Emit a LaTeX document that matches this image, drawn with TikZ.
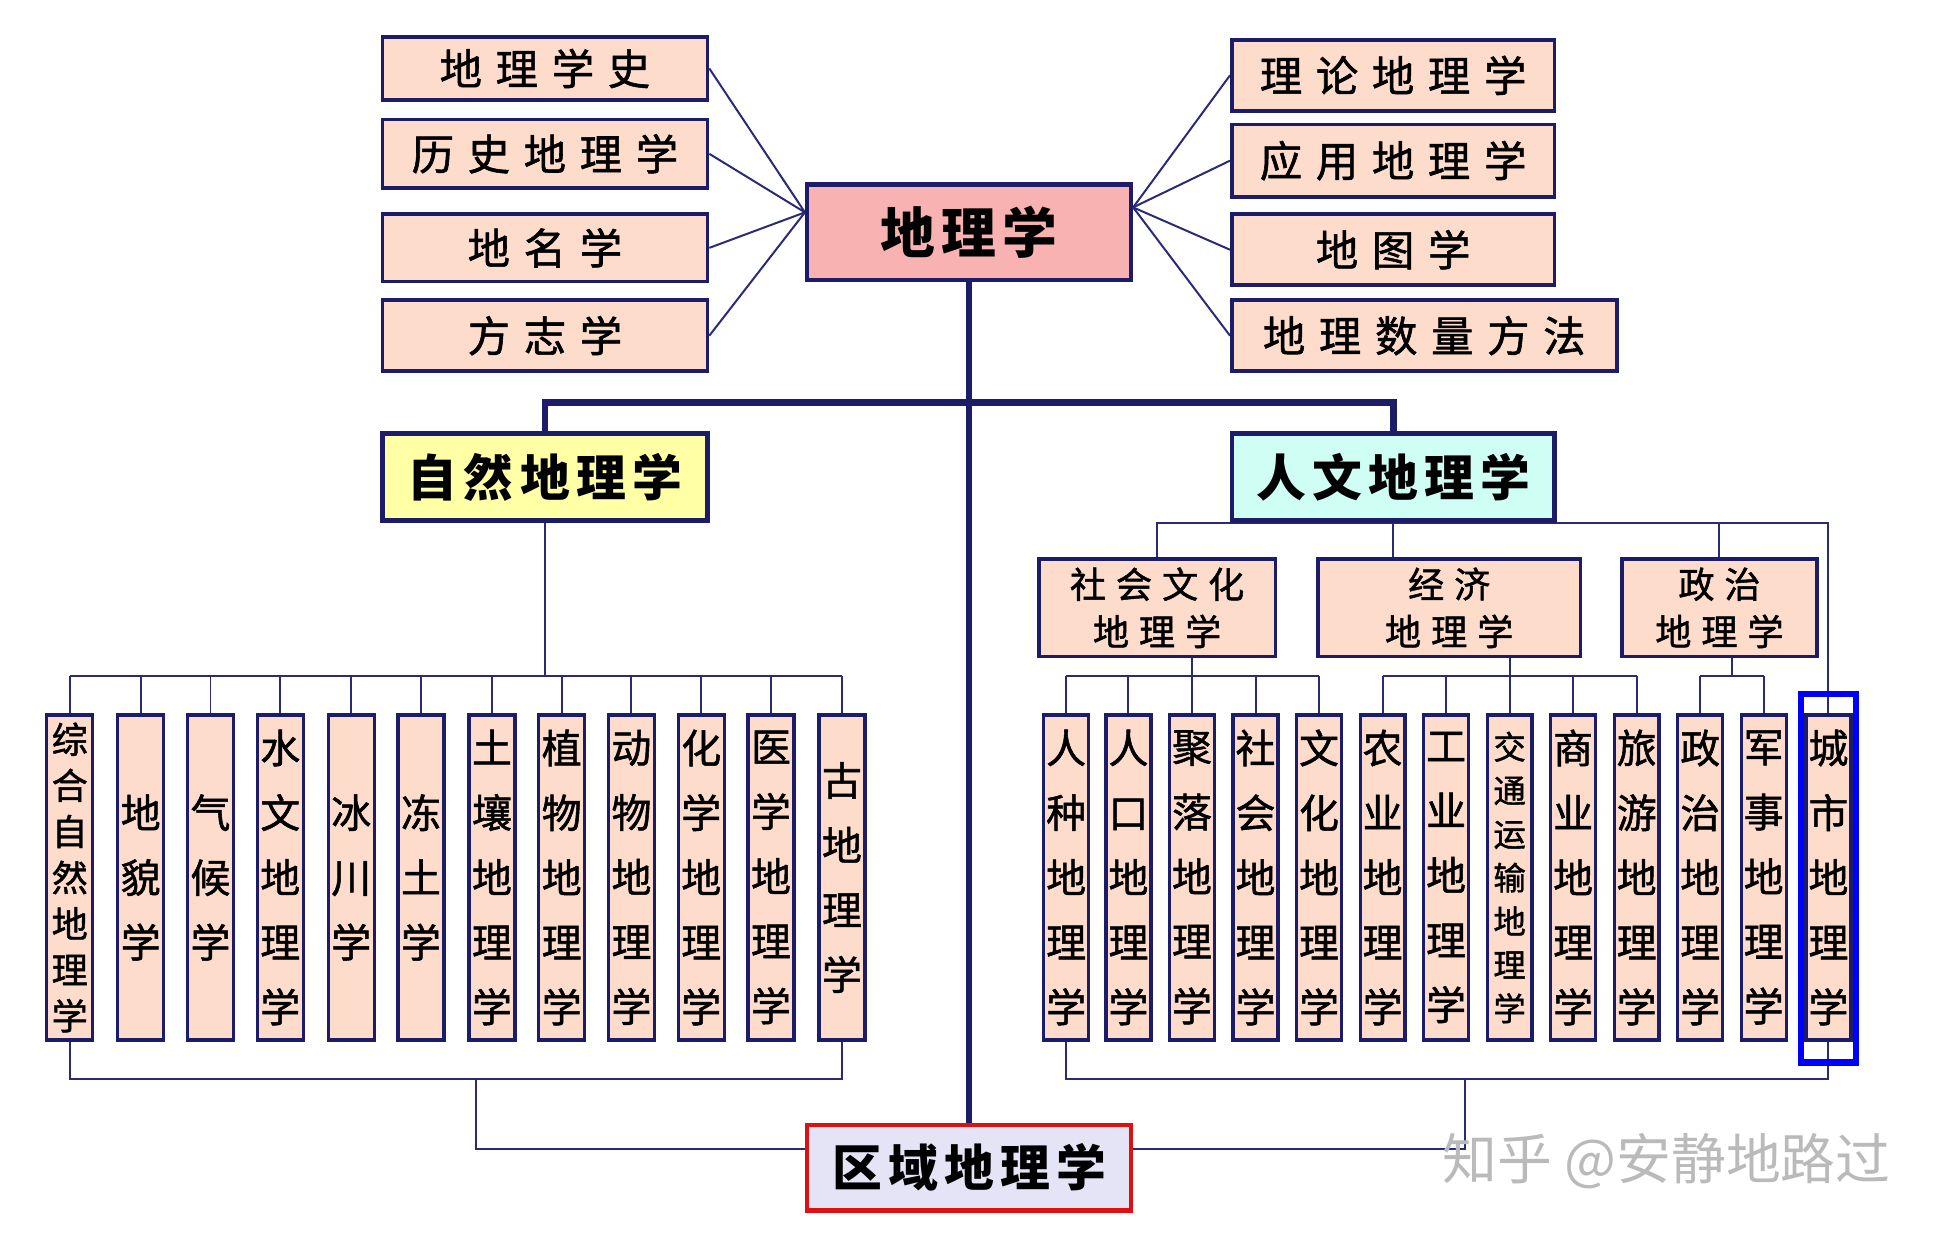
\documentclass[tikz,border=0pt]{standalone}
\usepackage{fontspec}
\setmainfont{Noto Sans CJK SC}
\newfontfamily\cjkm[FakeBold=1.3]{Noto Sans CJK SC}
\usetikzlibrary{backgrounds,calc}
\definecolor{navy}{HTML}{1C1C68}
\definecolor{lnavy}{HTML}{2A2A78}
\definecolor{peach}{HTML}{FDDCCB}
\definecolor{pinkm}{HTML}{F9B2B2}
\definecolor{yelz}{HTML}{FFFFA6}
\definecolor{cyanr}{HTML}{CFFFF4}
\definecolor{lavq}{HTML}{E4E4F6}
\definecolor{redq}{HTML}{E01010}
\newcommand\kga{\hspace{11pt}}
\newcommand\kgb{\hspace{5pt}}
\newcommand\kgc{\hspace{8pt}}
\begin{document}
\begin{tikzpicture}[x=1pt,y=-1pt,
 box/.style={draw=navy,line width=3pt,fill=peach,inner sep=0pt,font=\cjkm\fontsize{34}{40}\selectfont},
 head/.style={draw=navy,line width=3.5pt,inner sep=0pt,font=\fontsize{40}{44}\selectfont\bfseries},
 mid/.style={draw=navy,line width=3pt,fill=peach,inner sep=0pt,align=center,minimum height=78pt,font=\cjkm\fontsize{29}{38}\selectfont},
 tall/.style={draw=navy,line width=2.6pt,fill=peach,inner sep=0pt,align=center,minimum height=261pt,font=\cjkm\fontsize{32}{52}\selectfont},
 tallL/.style={tall,minimum width=37pt},
 tallR/.style={tall,minimum width=36pt},
 conn/.style={draw=lnavy,line width=1.6pt},
 trunk/.style={draw=navy,line width=5.5pt}]
\useasboundingbox (0,0) rectangle (1568,995);

% top left
\node[box,minimum width=261pt,minimum height=50pt] (a1) at (437.5,55) {地\kga 理\kga 学\kga 史};
\node[box,minimum width=261pt,minimum height=55pt] (a2) at (437.5,123.5) {历\kga 史\kga 地\kga 理\kga 学};
\node[box,minimum width=261pt,minimum height=54pt] (a3) at (437.5,199) {地\kga 名\kga 学};
\node[box,minimum width=261pt,minimum height=57pt] (a4) at (437.5,269.5) {方\kga 志\kga 学};
% main
\node[head,fill=pinkm,minimum width=260pt,minimum height=77pt,font=\fontsize{44}{48}\selectfont\bfseries] (main) at (778,186.5) {地\kgb 理\kgb 学};
% top right
\node[box,minimum width=259pt,minimum height=57pt] (b1) at (1118.5,60.5) {理\kga 论\kga 地\kga 理\kga 学};
\node[box,minimum width=259pt,minimum height=58pt] (b2) at (1118.5,129) {应\kga 用\kga 地\kga 理\kga 学};
\node[box,minimum width=259pt,minimum height=57pt] (b3) at (1118.5,200.5) {地\kga 图\kga 学};
\node[box,minimum width=309pt,minimum height=57pt] (b4) at (1143.5,269.5) {地\kga 理\kga 数\kga 量\kga 方\kga 法};
% second level
\node[head,fill=yelz,minimum width=261pt,minimum height=70pt] (zr) at (437.5,383) {自\kgb 然\kgb 地\kgb 理\kgb 学};
\node[head,fill=cyanr,minimum width=259pt,minimum height=70pt] (rw) at (1118.5,383) {人\kgb 文\kgb 地\kgb 理\kgb 学};
\node[head,draw=redq,fill=lavq,minimum width=260pt,minimum height=69pt] (qy) at (778,937.5) {区\kgb 域\kgb 地\kgb 理\kgb 学};
% mid boxes
\node[mid,minimum width=190pt] (sc) at (929,488) {社\kgc 会\kgc 文\kgc 化\\地\kgc 理\kgc 学};
\node[mid,minimum width=211pt] (jj) at (1163.5,488) {经\kgc 济\\地\kgc 理\kgc 学};
\node[mid,minimum width=157pt] (zz) at (1380.5,488) {政\kgc 治\\地\kgc 理\kgc 学};

% left tall boxes
\node[tallL,font=\cjkm\fontsize{29}{37}\selectfont] (L1) at (56,704.5) {综\\合\\自\\然\\地\\理\\学};
\node[tallL] (L2) at (113,704.5) {地\\貌\\学};
\node[tallL] (L3) at (169,704.5) {气\\候\\学};
\node[tallL] (L4) at (225,704.5) {水\\文\\地\\理\\学};
\node[tallL] (L5) at (282,704.5) {冰\\川\\学};
\node[tallL] (L6) at (338,704.5) {冻\\土\\学};
\node[tallL] (L7) at (395,704.5) {土\\壤\\地\\理\\学};
\node[tallL] (L8) at (451,704.5) {植\\物\\地\\理\\学};
\node[tallL] (L9) at (507,704.5) {动\\物\\地\\理\\学};
\node[tallL] (L10) at (563,704.5) {化\\学\\地\\理\\学};
\node[tallL] (L11) at (619,704.5) {医\\学\\地\\理\\学};
\node[tallL] (L12) at (676,704.5) {古\\地\\理\\学};

% right tall boxes
\node[tallR] (R1) at (856,704.5) {人\\种\\地\\理\\学};
\node[tallR] (R2) at (906,704.5) {人\\口\\地\\理\\学};
\node[tallR] (R3) at (957,704.5) {聚\\落\\地\\理\\学};
\node[tallR] (R4) at (1008,704.5) {社\\会\\地\\理\\学};
\node[tallR] (R5) at (1059,704.5) {文\\化\\地\\理\\学};
\node[tallR] (R6) at (1110,704.5) {农\\业\\地\\理\\学};
\node[tallR] (R7) at (1161,704.5) {工\\业\\地\\理\\学};
\node[tallR,font=\cjkm\fontsize{26}{35}\selectfont] (R8) at (1212,704.5) {交\\通\\运\\输\\地\\理\\学};
\node[tallR] (R9) at (1263,704.5) {商\\业\\地\\理\\学};
\node[tallR] (R10) at (1314,704.5) {旅\\游\\地\\理\\学};
\node[tallR] (R11) at (1365,704.5) {政\\治\\地\\理\\学};
\node[tallR] (R12) at (1416,704.5) {军\\事\\地\\理\\学};
\node[tallR] (R13) at (1468,704.5) {城\\市\\地\\理\\学};
\node[draw=blue,line width=5pt,minimum width=44pt,minimum height=296pt,inner sep=0pt] (cf) at (1468,705) {};

% watermark
\node[text=black!27,font=\fontsize{44}{48}\selectfont] (wm) at (1338,932) {知乎 @安静地路过};

\coordinate (hb) at (778,323);
\coordinate (lb) at (0,543);
\coordinate (lb2) at (0,866);
\coordinate (lj) at (382,866);
\coordinate (rj) at (1176,866);
\coordinate (mL) at ([yshift=16pt]main.west);
\coordinate (mR) at ([yshift=20pt]main.east);
\coordinate (zm) at ($(R11.north)!0.5!(R12.north)$);

\begin{scope}[on background layer]
% top fans
\foreach \n in {a1,a2,a3,a4} \draw[conn] (\n.east) -- (mL);
\foreach \n in {b1,b2,b3,b4} \draw[conn] (\n.west) -- (mR);
% trunk and bar
\draw[trunk] (main.south) -- (qy.north);
\draw[trunk] (zr.north) -- (zr.north |- hb) -- (rw.north |- hb) -- (rw.north);
% natural geography
\draw[conn] (zr.south) -- (zr.south |- lb);
\draw[conn] (L1.north |- lb) -- (L12.north |- lb);
\foreach \i in {1,...,12} \draw[conn] (L\i.north) -- (L\i.north |- lb);
\draw[conn] (L1.south) -- (L1.south |- lb2) -- (L12.south |- lb2) -- (L12.south);
\draw[conn] (lj) |- ([yshift=15pt]qy.west);
% human geography
\draw[conn] (sc.north) -- (sc.north |- rw.south) -- (R13.north |- rw.south) -- (R13.north);
\draw[conn] (rw.south) -- (rw.south |- jj.north);
\draw[conn] (zz.north) -- (zz.north |- rw.south);
\draw[conn] (R3.north |- sc.south) -- (R3.north |- lb);
\draw[conn] (R1.north |- lb) -- (R5.north |- lb);
\draw[conn] (R8.north |- jj.south) -- (R8.north |- lb);
\draw[conn] (R6.north |- lb) -- (R10.north |- lb);
\draw[conn] (zm |- zz.south) -- (zm |- lb);
\draw[conn] (R11.north |- lb) -- (R12.north |- lb);
\foreach \i in {1,...,12} \draw[conn] (R\i.north) -- (R\i.north |- lb);
\draw[conn] (R1.south) -- (R1.south |- lb2) -- (R13.south |- lb2) -- (R13.south);
\draw[conn] (rj) |- ([yshift=15pt]qy.east);
\end{scope}
\end{tikzpicture}
\end{document}
